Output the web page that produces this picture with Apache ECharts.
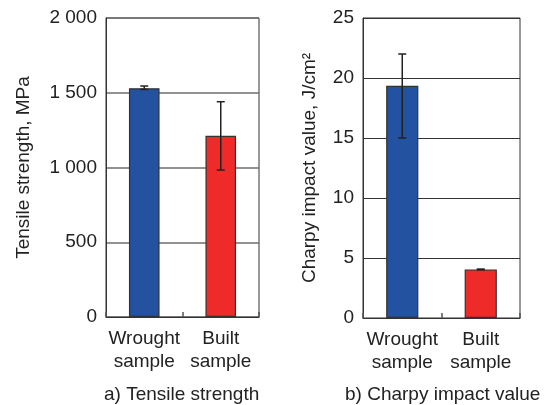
<!DOCTYPE html>
<html>
<head>
<meta charset="utf-8">
<script src="https://cdn.jsdelivr.net/npm/echarts@6/dist/echarts.min.js"></script>
<style>
  html, body { margin: 0; padding: 0; background: #fff; }
  #chart { width: 545px; height: 405px; }
</style>
</head>
<body>
<div id="chart"></div>
<script>
const categories = ["Wrought\nsample", "Built\nsample"];
const tensileValues = [1530, 1212];
const tensileLow = [1522, 983];
const tensileHigh = [1545, 1440];
const charpyValues = [19.35, 4.05];
const charpyLow = [15.0, 4.02];
const charpyHigh = [22.0, 4.08];
const barColors = ["#2352a0", "#ee2b29"];

const FONT = "Liberation Sans";
const FS = 19;
const chart = echarts.init(document.getElementById("chart"));

const errorSeries = (idx, low, high) => ({
  type: "custom",
  xAxisIndex: idx,
  yAxisIndex: idx,
  z: 5,
  data: low.map((v, i) => [i, v, high[i]]),
  renderItem: (params, api) => {
    const lo = api.coord([api.value(0), api.value(1)]);
    const hi = api.coord([api.value(0), api.value(2)]);
    const w = 4;
    const style = { stroke: "#222", lineWidth: 1.5 };
    return {
      type: "group",
      children: [
        { type: "line", shape: { x1: lo[0], y1: lo[1], x2: hi[0], y2: hi[1] }, style },
        { type: "line", shape: { x1: hi[0] - w, y1: hi[1], x2: hi[0] + w, y2: hi[1] }, style },
        { type: "line", shape: { x1: lo[0] - w, y1: lo[1], x2: lo[0] + w, y2: lo[1] }, style },
      ],
    };
  },
});

const xAxisCfg = (idx) => ({
  type: "category",
  gridIndex: idx,
  data: categories,
  axisLine: { show: true, lineStyle: { color: "#333", width: 1 } },
  axisTick: { show: true, inside: true, length: 5, interval: 0, lineStyle: { color: "#555", width: 1.5 } },
  axisLabel: { interval: 0, fontFamily: FONT, fontSize: FS, color: "#222", lineHeight: 23, margin: 10 },
});

const option = {
  animation: false,
  grid: [
    { left: 106, right: 286, top: 18, bottom: 88, show: true, borderColor: "#333", borderWidth: 1 },
    { left: 363, right: 25, top: 18, bottom: 87, show: true, borderColor: "#333", borderWidth: 1 },
  ],
  xAxis: [xAxisCfg(0), xAxisCfg(1)],
  yAxis: [
    {
      type: "value",
      gridIndex: 0,
      min: 0,
      max: 2000,
      interval: 500,
      name: "Tensile strength, MPa",
      nameLocation: "middle",
      nameGap: 73,
      nameTextStyle: { fontFamily: FONT, fontSize: FS, color: "#222" },
      axisLine: { show: true, lineStyle: { color: "#333" } },
      axisTick: { show: false },
      axisLabel: {
        fontFamily: FONT, fontSize: FS, color: "#222", margin: 9,
        formatter: (v) => (v >= 1000 ? Math.floor(v / 1000) + " " + String(v % 1000).padStart(3, "0") : String(v)),
      },
      splitLine: { show: true, lineStyle: { color: "#6e6e6e", width: 1.5 } },
    },
    {
      type: "value",
      gridIndex: 1,
      min: 0,
      max: 25,
      interval: 5,
      name: "Charpy impact value, J/cm\u00B2",
      nameLocation: "middle",
      nameGap: 44,
      nameTextStyle: { fontFamily: FONT, fontSize: FS, color: "#222" },
      axisLine: { show: true, lineStyle: { color: "#333" } },
      axisTick: { show: false },
      axisLabel: { fontFamily: FONT, fontSize: FS, color: "#222", margin: 9 },
      splitLine: { show: true, lineStyle: { color: "#333", width: 1.2 } },
    },
  ],
  series: [
    {
      type: "bar",
      xAxisIndex: 0,
      yAxisIndex: 0,
      barWidth: "40%",
      data: tensileValues.map((v, i) => ({ value: v, itemStyle: { color: barColors[i] } })),
      itemStyle: { borderColor: "#333", borderWidth: 1.2 },
    },
    errorSeries(0, tensileLow, tensileHigh),
    {
      type: "bar",
      xAxisIndex: 1,
      yAxisIndex: 1,
      barWidth: "41%",
      data: charpyValues.map((v, i) => ({ value: v, itemStyle: { color: barColors[i] } })),
      itemStyle: { borderColor: "#333", borderWidth: 1.2 },
    },
    errorSeries(1, charpyLow, charpyHigh),
  ],
  graphic: [
    {
      type: "text", left: 104, top: 385,
      style: { text: "a) Tensile strength", font: FS + "px " + FONT, fill: "#222" },
    },
    {
      type: "text", left: 345, top: 385,
      style: { text: "b) Charpy impact value", font: FS + "px " + FONT, fill: "#222" },
    },
  ],
};
chart.setOption(option);
</script>
</body>
</html>
